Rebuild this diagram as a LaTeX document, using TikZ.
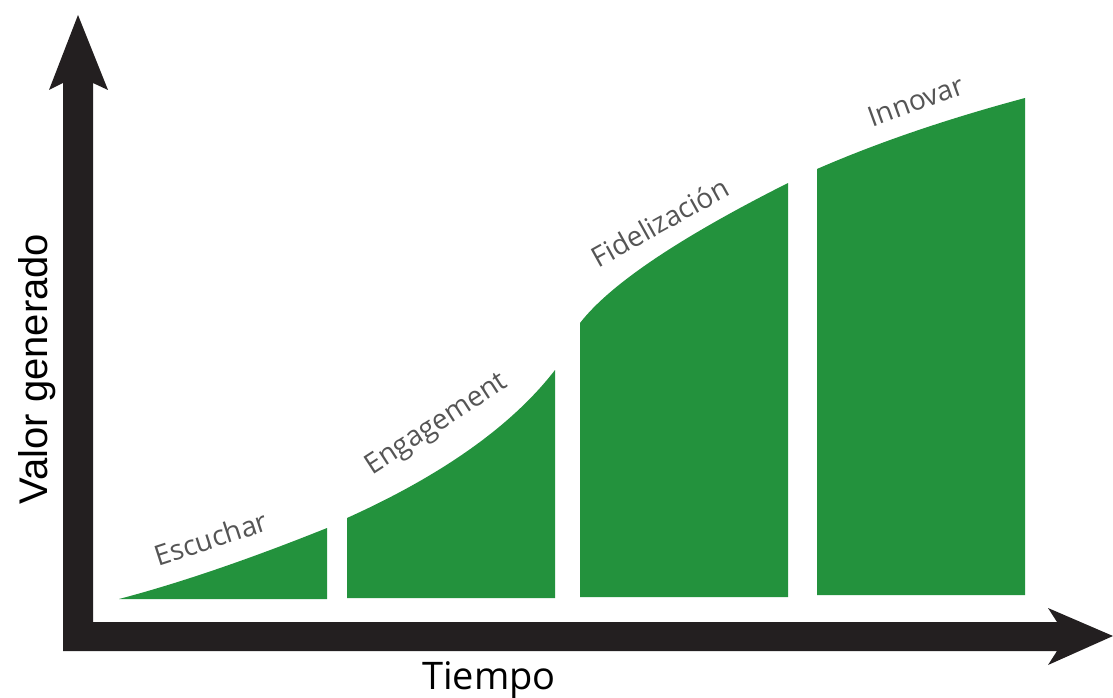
\documentclass[tikz,border=0pt]{standalone}
\usepackage{fontspec}
\setmainfont{Open Sans}
\newfontfamily\arialfont{Liberation Sans}
\definecolor{barGreen}{HTML}{23923D}
\definecolor{axisBlack}{HTML}{231F20}
\definecolor{labelGray}{HTML}{555555}
\begin{document}
\begin{tikzpicture}[x=1pt,y=-1pt,
  bar/.style={fill=barGreen, draw=none},
  phase/.style={text=labelGray, font=\fontsize{28}{33}\selectfont, inner sep=0pt},
  axislabel/.style={text=black, inner sep=0pt}]
\useasboundingbox (0,0) rectangle (1113,698);
% axes
\fill[axisBlack] (78,15) -- (108,90) -- (93,83) -- (93,622) -- (1057,622) -- (1048,608)
  -- (1113,636) -- (1048,665) -- (1057,651) -- (63,651) -- (63,83) -- (49,90) -- cycle;
% bars
\fill[bar] (119,599) .. controls (179.7,583) and (249,559.3) .. (327,528) -- (327,599) -- cycle;
\fill[bar] (347,518) .. controls (443,474.7) and (512.3,425.3) .. (555,370) -- (555,598) -- (347,598) -- cycle;
\fill[bar] (580,323) .. controls (610,284.3) and (679.3,237.7) .. (788,183) -- (788,597) -- (580,597) -- cycle;
\fill[bar] (817,169) .. controls (878.3,142.3) and (947.7,118.7) .. (1025,98) -- (1025,595) -- (817,595) -- cycle;
% phase labels
\node[phase, rotate=18] (escuchar) at (211,538) {Escuchar};
\node[phase, rotate=33] (engagement) at (437,425) {Engagement};
\node[phase, rotate=29] (fidelizacion) at (660,222) {Fidelización};
\node[phase, rotate=20] (innovar) at (916,101) {Innovar};
% axis labels
\node[axislabel, font=\arialfont\fontsize{40}{48}\selectfont, rotate=90, anchor=base] (valor) at (47,369) {Valor generado};
\node[axislabel, font=\fontsize{38}{45}\selectfont, anchor=base] (tiempo) at (489,689) {Tiempo};
\end{tikzpicture}
\end{document}
